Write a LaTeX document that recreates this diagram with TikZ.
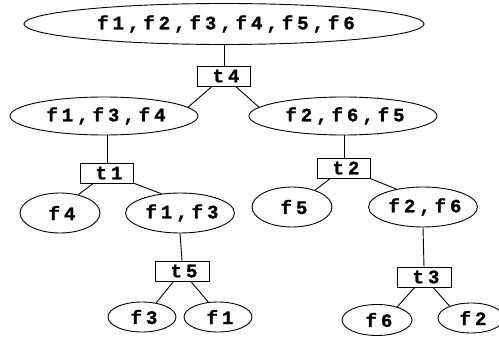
\documentclass[tikz,border=0pt]{standalone}
\usepackage{fontspec}
\newfontfamily\labelfont{Liberation Mono}[UprightFont={* Bold}, LetterSpace=21, FakeBold=1.2]
\usetikzlibrary{shapes.geometric}
\begin{document}
\begin{tikzpicture}[x=1pt,y=-1pt,
  line width=0.9pt,
  every node/.style={font=\labelfont\fontsize{19}{20}\selectfont, inner sep=0pt,
    execute at begin node={\kern4pt}},
  set/.style={draw, ellipse},
  op/.style={draw, rectangle, minimum width=53pt, minimum height=20pt}]
\useasboundingbox (0,0) rectangle (499,337);
% root set and the first split
\node[set, minimum width=400pt, minimum height=41pt] (root) at (224,24) {f1,f2,f3,f4,f5,f6};
\node[op] (t4) at (224,76) {t4};
\node[set, minimum width=188pt, minimum height=38pt] (l) at (104,116) {f1,f3,f4};
\node[set, minimum width=188pt, minimum height=38pt] (r) at (343,116) {f2,f6,f5};
% left branch
\node[op] (t1) at (107,173) {t1};
\node[set, minimum width=80pt, minimum height=40pt] (f4) at (60,213) {f4};
\node[set, minimum width=108pt, minimum height=40pt] (f13) at (180,213) {f1,f3};
\node[op, minimum width=54pt] (t5) at (182,271) {t5};
\node[set, minimum width=68pt, minimum height=30pt] (f3) at (142,317) {f3};
\node[set, minimum width=68pt, minimum height=30pt] (f1) at (218,317) {f1};
% right branch
\node[op] (t2) at (344,168) {t2};
\node[set, minimum width=80pt, minimum height=40pt] (f5) at (292,207) {f5};
\node[set, minimum width=107pt, minimum height=40pt] (f26) at (423,207) {f2,f6};
\node[op, minimum width=54pt] (t3) at (424,277) {t3};
\node[set, minimum width=70pt, minimum height=31pt] (f6) at (377,320) {f6};
\node[set, minimum width=66pt, minimum height=30pt] (f2) at (471,318) {f2};
% connectors
\draw (root.south) -- (t4.north);
\draw (t4) -- (l.6);
\draw (t4) -- (r.174);
\draw (l.south -| t1.north) -- (t1.north);
\draw (t1) -- (f4.45);
\draw (t1) -- (f13.134);
\draw (f13.south) -- (t5.north);
\draw (t5) -- (f3.45);
\draw (t5) -- (f1.123);
\draw (r.south -| t2.north) -- (t2.north);
\draw (t2) -- (f5.36);
\draw (t2) -- (f26.146);
\draw (f26.south) -- (t3.north);
\draw (t3) -- (f6.33);
\draw (t3) -- (f2.151);
\end{tikzpicture}
\end{document}
